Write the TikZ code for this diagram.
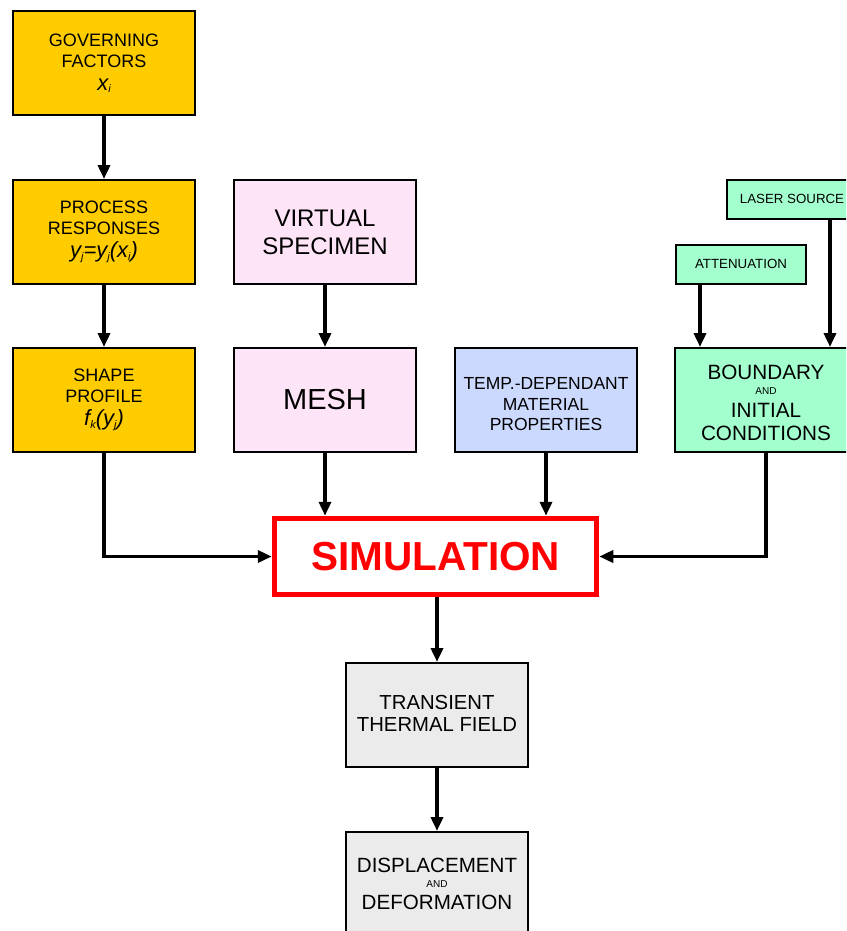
\documentclass[tikz,border=0pt]{standalone}
\usepackage{fontspec}
\setmainfont{Liberation Sans}
\usetikzlibrary{arrows.meta}
\definecolor{gold}{RGB}{255,204,0}
\definecolor{pinkbox}{RGB}{253,228,246}
\definecolor{bluebox}{RGB}{204,217,255}
\definecolor{mintbox}{RGB}{163,255,206}
\definecolor{greybox}{RGB}{235,235,235}
\newcommand\sbs[1]{\raisebox{-2.5pt}{\fontsize{11}{11}\selectfont #1}}
\newcommand\fsz[2]{\fontsize{#1}{#2}\selectfont}
\newcommand\lowtext[2]{\raisebox{#1}[\height][\depth]{\begin{tabular}{@{}c@{}}#2\end{tabular}}}
\begin{document}
\begin{tikzpicture}[x=1pt,y=-1pt,
 box/.style={draw=black, line width=2pt, minimum width=182pt, minimum height=104pt, align=center, inner sep=0pt},
 smallbox/.style={draw=black, line width=2pt, minimum width=130pt, minimum height=39pt, align=center, inner sep=0pt, fill=mintbox, font=\fsz{13.3}{15}},
 arr/.style={line width=3.5pt, -{Triangle[length=14pt,width=12pt]}}]
\clip (0,0) rectangle (846,931);
\node[box, fill=gold, font=\fsz{18}{21}] (gov) at (104,63)
  {GOVERNING\\FACTORS\\[2pt]{\fsz{22}{22}\itshape x\sbs{i}}};
\node[box, fill=gold, font=\fsz{18}{21}] (proc) at (104,232)
  {PROCESS\\RESPONSES\\[2pt]{\fsz{22}{22}\itshape y\sbs{j}=y\sbs{j}(x\sbs{i})}};
\node[box, fill=gold, font=\fsz{18}{21}] (shape) at (104,400)
  {SHAPE\\PROFILE\\[2pt]{\fsz{22}{22}\itshape f\sbs{k}(y\sbs{j})}};
\node[box, fill=pinkbox, font=\fsz{24}{28}] (virt) at (325,232) {VIRTUAL\\SPECIMEN};
\node[box, fill=pinkbox, font=\fsz{29}{32}] (mesh) at (325,400) {MESH};
\node[box, fill=bluebox, font=\fsz{17.5}{20.5}] (temp) at (546,400)
  {\lowtext{-6pt}{TEMP.-DEPENDANT\\MATERIAL\\PROPERTIES}};
\node[smallbox] (att) at (741,264) {ATTENUATION};
\node[smallbox] (laser) at (792,199) {LASER SOURCE};
\node[box, fill=mintbox, font=\fsz{20.7}{23}] (bnd) at (766,400)
  {\lowtext{-5pt}{BOUNDARY\\[-8pt]{\fsz{10}{10}AND}\\INITIAL\\CONDITIONS}};
\node[draw=red, line width=5.5pt, minimum width=322pt, minimum height=76pt, inner sep=0pt,
  text=red, font=\fsz{40.5}{44}\bfseries] (sim) at (435.5,556.5) {SIMULATION};
\node[box, fill=greybox, font=\fsz{20.3}{22}] (trans) at (437,715) {\lowtext{-1pt}{TRANSIENT\\THERMAL FIELD}};
\node[box, fill=greybox, font=\fsz{20.6}{22}] (disp) at (437,884)
  {DISPLACEMENT\\[-7pt]{\fsz{10}{10}AND}\\DEFORMATION};
\draw[arr] (gov) -- (proc);
\draw[arr] (proc) -- (shape);
\draw[arr] (virt) -- (mesh);
\draw[arr] (shape.south) |- (sim.west);
\draw[arr] (bnd.south) |- (sim.east);
\draw[arr] (mesh.south) -- (mesh.south |- sim.north);
\draw[arr] (temp.south) -- (temp.south |- sim.north);
\draw[arr] ([xshift=25pt]att.south west) -- ([xshift=25pt]att.south west |- bnd.north);
\draw[arr] ([xshift=104pt]laser.south west) -- ([xshift=104pt]laser.south west |- bnd.north);
\draw[arr] (sim.south -| trans.north) -- (trans);
\draw[arr] (trans) -- (disp);
\end{tikzpicture}
\end{document}
